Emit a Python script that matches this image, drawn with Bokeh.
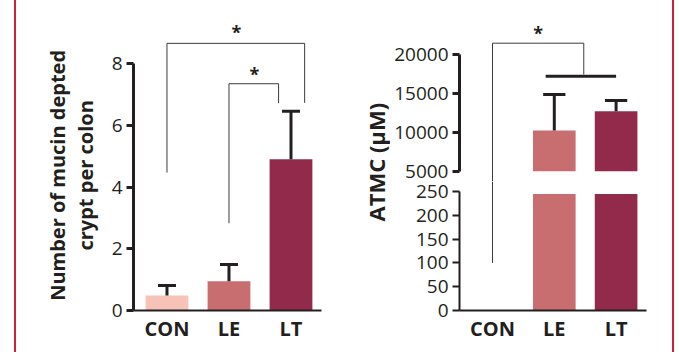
import numpy as np
from bokeh.plotting import figure
from bokeh.models import Range1d, FixedTicker, Spacer
from bokeh.layouts import row, column
from bokeh.embed import file_html
from bokeh.resources import INLINE
from bokeh.core.properties import value

# ---------------- data ----------------
categories = ["CON", "LE", "LT"]
bar_colors = ["#f8c3b7", "#c86e71", "#922b4b"]

# left panel: number of mucin depleted crypts per colon
crypt_mean = [0.49, 0.95, 4.90]
crypt_sem = [0.32, 0.54, 1.56]
crypt_ticks = [0, 2, 4, 6, 8]

# right panel: ATMC (uM), broken axis
atmc_mean = [0, 10230, 12710]
atmc_sem = [0, 4620, 1380]
atmc_upper_ticks = [5000, 10000, 15000, 20000]
atmc_lower_ticks = [0, 50, 100, 150, 200, 250]

# ---------------- style ----------------
INK = "#231f20"
BRK = "#3c3c3c"
RED = "#cf1f41"
FONT = "Open Sans"
H = 352
xs = list(range(len(categories)))
labels = {i: c for i, c in enumerate(categories)}


def base_fig(width, height, xr, yr, **kw):
    f = figure(width=width, height=height, x_range=xr, y_range=yr,
               output_backend="svg", toolbar_location=None, **kw)
    f.grid.visible = False
    f.outline_line_color = None
    f.background_fill_color = "white"
    f.border_fill_color = "white"
    return f


def style_y(ax, ticks, bounds, lw):
    ax.ticker = FixedTicker(ticks=ticks)
    ax.bounds = bounds
    ax.axis_line_width = lw
    ax.axis_line_color = INK
    ax.major_tick_line_width = lw
    ax.major_tick_line_color = INK
    ax.major_tick_out = 7
    ax.major_tick_in = 0
    ax.minor_tick_line_color = None
    ax.major_label_text_font = FONT
    ax.major_label_text_font_size = "19px"
    ax.major_label_text_color = INK
    ax.major_label_standoff = 4


def style_x(ax):
    ax.ticker = FixedTicker(ticks=xs)
    ax.major_label_overrides = labels
    ax.axis_line_width = 2
    ax.axis_line_color = INK
    ax.major_tick_line_color = None
    ax.major_tick_out = 0
    ax.major_tick_in = 0
    ax.minor_tick_line_color = None
    ax.major_label_text_font = FONT
    ax.major_label_text_font_style = "bold"
    ax.major_label_text_font_size = "20px"
    ax.major_label_text_color = INK
    ax.major_label_standoff = 4


def label_fig(width, xs_txt, ys_txt, texts, size):
    f = figure(width=width, height=H, x_range=Range1d(0, width), y_range=Range1d(0, H),
               output_backend="svg", toolbar_location=None,
               x_axis_location=None, y_axis_location=None, min_border=0)
    f.grid.visible = False
    f.outline_line_color = None
    f.text(x=xs_txt, y=ys_txt, text=texts, angle=np.pi / 2,
           text_font=value(FONT), text_font_style="bold", text_font_size=size,
           text_align="center", text_baseline="middle", text_color=INK)
    return f


def error_bars(f, x, mean, sem, cap):
    tops = [m + s for m, s in zip(mean, sem)]
    f.segment(x0=x, y0=mean, x1=x, y1=tops, line_width=3, line_color=INK)
    f.segment(x0=[v - cap for v in x], y0=tops, x1=[v + cap for v in x], y1=tops,
              line_width=3, line_color=INK)


def star(f, x, y):
    f.text(x=x, y=y, text=["*"] * len(x), text_font=value(FONT), text_font_size="18px",
           text_font_style="bold", text_align="center", text_baseline="alphabetic",
           text_color=INK)


# ---------------- left chart ----------------
pL = base_fig(240, H, Range1d(-0.54, 2.492), Range1d(0, 9.40),
              min_border_left=33, min_border_right=19, min_border_top=20, min_border_bottom=42)
pL.vbar(x=xs, top=crypt_mean, width=0.69, fill_color=bar_colors, line_color=None)
error_bars(pL, xs, crypt_mean, crypt_sem, 0.145)
pL.line(x=[0, 0, 2.22, 2.22], y=[4.47, 8.66, 8.66, 6.73], line_width=1, line_color=BRK)
pL.line(x=[1, 1, 1.80, 1.80], y=[2.83, 7.35, 7.35, 6.72], line_width=1, line_color=BRK)
star(pL, [1.12, 1.41], [9.04, 7.67])
style_y(pL.yaxis[0], crypt_ticks, (0, 8), 3)
style_x(pL.xaxis[0])

labL = label_fig(84, [41, 69], [164, 164], ["Number of mucin depted", "crypt per colon"], "20px")
labR = label_fig(50, [35], [180], ["ATMC (\u03bcM)"], "22px")

# ---------------- right chart (broken axis) ----------------
xr = Range1d(-0.534, 2.492)
BREAK_HI = 5000
BREAK_LO = 245
OVER = 14
pRU = base_fig(282, 181 + OVER, xr, Range1d(3676, 24370), x_axis_location=None,
               min_border_left=69, min_border_right=26, min_border_top=20, min_border_bottom=OVER)
pRL = base_fig(282, H - 181 + OVER, xr, Range1d(0, 271),
               min_border_left=69, min_border_right=26, min_border_top=OVER, min_border_bottom=42)
pRL.border_fill_alpha = 0
pRL.margin = (-2 * OVER, 0, 0, 0)

up_idx = [i for i, m in enumerate(atmc_mean) if m > BREAK_HI]
pRU.vbar(x=[xs[i] for i in up_idx], bottom=BREAK_HI, top=[atmc_mean[i] for i in up_idx],
         width=0.69, fill_color=[bar_colors[i] for i in up_idx], line_color=None)
error_bars(pRU, [xs[i] for i in up_idx], [atmc_mean[i] for i in up_idx],
           [atmc_sem[i] for i in up_idx], 0.18)
pRL.vbar(x=xs, bottom=0, top=[min(m, BREAK_LO) for m in atmc_mean], width=0.69,
         fill_color=bar_colors, line_color=None)

# significance
pRU.line(x=[0, 0, 1.477, 1.477], y=[3676, 21452, 21452, 17430], line_width=1, line_color=BRK)
pRU.segment(x0=[0.86], y0=[17211], x1=[2.0], y1=[17211], line_width=3, line_color=INK)
star(pRU, [0.74], [22738])
pRL.segment(x0=[0], y0=[100], x1=[0], y1=[271], line_width=1, line_color=BRK)

style_y(pRU.yaxis[0], atmc_upper_ticks, (5000, 20000), 3)
style_y(pRL.yaxis[0], atmc_lower_ticks, (0, 250), 2)
style_x(pRL.xaxis[0])

# ---------------- layout ----------------
gap = Spacer(width=14, height=H)
b1 = Spacer(width=2, height=H, styles={"background-color": RED})
b2 = Spacer(width=2, height=H, styles={"background-color": RED})
layout = row(gap, b1, labL, pL, labR, column(pRU, pRL, spacing=0), b2, spacing=0)

open("out.html", "w").write(file_html(layout, INLINE))
